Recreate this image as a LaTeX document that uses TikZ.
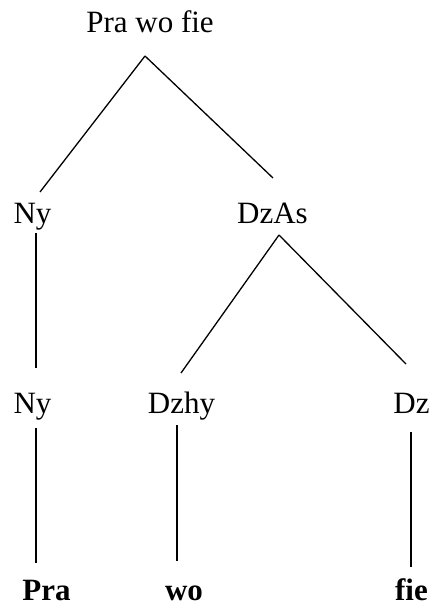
\documentclass[tikz,border=0pt]{standalone}
\usepackage{fontspec}
\setmainfont{Liberation Serif}
\usepackage{tikz}

\begin{document}
\begin{tikzpicture}[x=1pt,y=-1pt,
	word/.style={anchor=base,inner sep=0pt,font=\fontsize{31}{36}\selectfont},
	leaf/.style={word,font=\fontsize{31}{36}\selectfont\bfseries},
	branch/.style={line width=1.3pt}]
	\useasboundingbox (0,0) rectangle (435,607);
	% labels
	\node[word] at (150,33) (root) {Pra wo fie};
	\node[word] at (32.5,223) (ny1) {Ny};
	\node[word] at (272.5,223) (dzas) {DzAs};
	\node[word] at (32.5,413) (ny2) {Ny};
	\node[word] at (181.5,413) (dzhy) {Dzhy};
	\node[word] at (411.5,413) (dz) {Dz};
	\node[leaf] at (46.5,600) (pra) {Pra};
	\node[leaf] at (184,600) (wo) {wo};
	\node[leaf] at (411.5,600) (fie) {fie};
	% branches
	\draw[branch] ([xshift=-5pt, yshift=-23pt] root.base) -- ([xshift=7.5pt, yshift=31pt] ny1.base);
	\draw[branch] ([xshift=-5pt, yshift=-23pt] root.base) -- ([xshift=0.5pt, yshift=45pt] dzas.base);
	\draw[branch] ([xshift=3.5pt, yshift=-10pt] ny1.base) -- ([xshift=3.5pt, yshift=45pt] ny2.base);
	\draw[branch] ([xshift=6.5pt, yshift=-12pt] dzas.base) -- ([xshift=-0.5pt, yshift=40pt] dzhy.base);
	\draw[branch] ([xshift=6.5pt, yshift=-12pt] dzas.base) -- ([xshift=-5.5pt, yshift=49pt] dz.base);
	\draw[branch] ([xshift=3.5pt, yshift=-15pt] ny2.base) -- ([xshift=-10.5pt, yshift=37pt] pra.base);
	\draw[branch] ([xshift=-4.5pt, yshift=-12pt] dzhy.base) -- ([xshift=-7pt, yshift=39pt] wo.base);
	\draw[branch] ([xshift=-0.5pt, yshift=-19pt] dz.base) -- ([xshift=-0.5pt, yshift=33pt] fie.base);
\end{tikzpicture}
\end{document}
